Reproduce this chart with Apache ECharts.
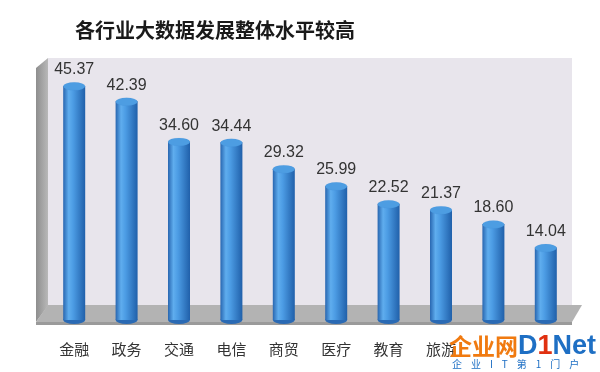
<!DOCTYPE html>
<html><head><meta charset="utf-8">
<script src="https://cdn.jsdelivr.net/npm/echarts@6/dist/echarts.min.js"></script>
<style>html,body{margin:0;padding:0;background:#fff}#c{width:600px;height:372px}</style>
</head><body><div id="c"></div>
<script>
const titleText = '各行业大数据发展整体水平较高';
const categories = ['金融','政务','交通','电信','商贸','医疗','教育','旅游','',''];
const values = [45.37, 42.39, 34.60, 34.44, 29.32, 25.99, 22.52, 21.37, 18.60, 14.04];
const yMax = 50;

const chart = echarts.init(document.getElementById('c'));
const font = '"Noto Sans CJK SC","Noto Sans",sans-serif';
chart.setOption({
  backgroundColor: '#ffffff',
  animation: false,
  title: {
    text: titleText, left: 70, top: 15,
    textStyle: { fontFamily: font, fontSize: 20, fontWeight: 'bold', color: '#1a1a1a' }
  },
  grid: { left: 48, right: 28, top: 62, bottom: 52, show: true, backgroundColor: '#e8e5ec', borderWidth: 0 },
  graphic: [
    { type: 'rect', shape: { x: 48, y: 58, width: 524, height: 6 }, style: { fill: '#e8e5ec' }, z: 0 },
    { type: 'polygon', shape: { points: [[36,68],[48,58],[48,306],[36,322]] },
      style: { fill: new echarts.graphic.LinearGradient(0,0,1,0,[{offset:0,color:'#8e8e8e'},{offset:1,color:'#b8b8b8'}]) }, z: 0 },
    { type: 'polygon', shape: { points: [[48,305],[582,305],[572,322],[36,322]] },
      style: { fill: '#b3b3b3' }, z: 0 },
    { type: 'rect', shape: { x: 36, y: 322, width: 536, height: 3 }, style: { fill: '#9a9a9a' }, z: 0 },
    { type: 'text', left: 449, top: 333, z: 10,
      style: { text: '{a|企业网}{b|D}{c|1}{b|Net}', rich: {
        a: { fontFamily: font, fontSize: 23, fontWeight: 'bold', fill: '#f07a10', textShadowColor: '#c04010', textShadowOffsetX: 1, textShadowOffsetY: 1 },
        b: { fontFamily: 'Liberation Sans', fontSize: 27, fontWeight: 'bold', fill: '#1e6fc4' },
        c: { fontFamily: 'Liberation Sans', fontSize: 27, fontWeight: 'bold', fill: '#e03010' } } } },
    { type: 'text', left: 452, top: 359, z: 10,
      style: { text: '企    业    I    T    第    1    门    户', fontFamily: font, fontSize: 10, fill: '#1e6fc4' } }
  ],
  xAxis: {
    type: 'category', data: categories,
    axisLine: { show: false }, axisTick: { show: false },
    axisLabel: { fontFamily: font, fontSize: 15, color: '#333', margin: 22 }
  },
  yAxis: { type: 'value', min: 0, max: yMax, show: false, splitLine: { show: false } },
  series: [
    { type: 'bar', data: values, barWidth: 22, z: 2,
      itemStyle: { color: new echarts.graphic.LinearGradient(0,0,1,0,[
        {offset:0,color:'#2866b0'},{offset:0.25,color:'#5fadee'},{offset:0.45,color:'#4c9ce4'},{offset:1,color:'#2060aa'}]) },
      label: { show: true, position: 'top', distance: 8, fontFamily: 'Liberation Sans', fontSize: 16, color: '#333',
        formatter: p => p.value.toFixed(2) } },
    { type: 'pictorialBar', data: values, symbol: 'circle', symbolSize: [22, 8], symbolPosition: 'end',
      symbolOffset: [0, '-50%'], z: 3,
      itemStyle: { color: '#4d9de2', borderColor: '#2a68b2', borderWidth: 1.5 } },
    { type: 'pictorialBar', data: values, symbol: 'circle', symbolSize: [22, 8], symbolPosition: 'start',
      symbolOffset: [0, '50%'], z: 1,
      itemStyle: { color: '#2a6ab4' } }
  ]
});
</script></body></html>
